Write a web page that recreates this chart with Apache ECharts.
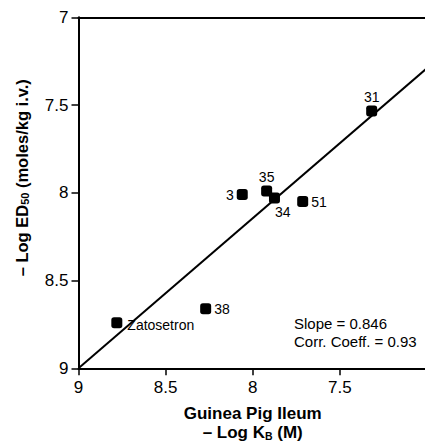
<!DOCTYPE html>
<html><head><meta charset="utf-8">
<script src="https://cdn.jsdelivr.net/npm/echarts@6/dist/echarts.min.js"></script>
<style>html,body{margin:0;padding:0;background:#fff}#c{width:425px;height:444px}</style>
</head><body><div id="c"></div>
<script>
const compounds = ['Zatosetron','38','3','35','34','51','31'];
const guineaPigLogKB = [8.78, 8.27, 8.06, 7.92, 7.875, 7.713, 7.317];
const logED50 = [8.74, 8.66, 8.01, 7.99, 8.03, 8.05, 7.534];
const labelPos = ['bottomRight','right','left','top','bottom','right','top'];
const regressionX = [9, 7];
const regressionY = [9, 7.29];

const FONT = '"Liberation Sans", Arial, sans-serif';
const posMap = {
  right: {position:'right', distance:3},
  left: {position:'left', distance:3},
  top: {position:'top', distance:2},
  bottom: {position:[6,12], distance:0},
  bottomRight: {position:[16,1], distance:0}
};
const pts = compounds.map((n,i)=>({
  value:[guineaPigLogKB[i], logED50[i]],
  name:n,
  label:Object.assign({show:true, formatter:n, color:'#000', fontFamily:FONT, fontSize:14}, posMap[labelPos[i]])
}));

const chart = echarts.init(document.getElementById('c'), null, {renderer:'svg'});
const fmt = v => String(+v.toFixed(2));
const axisCommon = {
  min:7, max:9, interval:0.5, inverse:true,
  splitLine:{show:false},
  axisLine:{show:true, onZero:false, lineStyle:{color:'#000', width:2}},
  axisTick:{show:true, inside:false, length:7, lineStyle:{color:'#000', width:1.5}},
  axisLabel:{color:'#000', fontFamily:FONT, fontSize:17, hideOverlap:false, showMinLabel:true, showMaxLabel:true, formatter:fmt}
};
chart.setOption({
  animation:false,
  backgroundColor:'#fff',
  grid:{left:78.5, top:17.3, width:348.4, height:351, containLabel:false, outerBoundsMode:'none'},
  xAxis:[
    Object.assign({}, axisCommon, {type:'value', position:'bottom',
      axisLabel:Object.assign({}, axisCommon.axisLabel, {margin:11, formatter:v => (v <= 7 ? '' : fmt(v))}),
      name:'{n|Guinea Pig Ileum}\n{n|– Log K}{s|B}{n| (M)}', nameLocation:'middle', nameGap:36,
      nameTextStyle:{align:'center', rich:{n:{fontFamily:FONT, fontWeight:'bold', fontSize:17, color:'#000', lineHeight:19}, s:{fontFamily:FONT, fontWeight:'bold', fontSize:10.5, color:'#000', lineHeight:19, padding:[6,0,0,0]}}}}),
    {type:'value', position:'top', min:7, max:9, inverse:true, axisLine:{show:true, onZero:false, lineStyle:{color:'#000', width:2}}, axisTick:{show:false}, axisLabel:{show:false}, splitLine:{show:false}}
  ],
  yAxis:[Object.assign({}, axisCommon, {type:'value', position:'left',
    axisLabel:Object.assign({}, axisCommon.axisLabel, {margin:10}),
    name:'{n|– Log ED}{s|50}{n| (moles/kg i.v.)}', nameLocation:'middle', nameRotate:90, nameGap:48,
    nameTextStyle:{padding:[0,0,0,30], rich:{n:{fontFamily:FONT, fontWeight:'bold', fontSize:16.5, color:'#000'}, s:{fontFamily:FONT, fontWeight:'bold', fontSize:11, color:'#000', padding:[7,0,0,0]}}}})],
  series:[
    {type:'line', data:regressionX.map((x,i)=>[x, regressionY[i]]), showSymbol:false, symbol:'none', lineStyle:{color:'#000', width:2}, z:2, silent:true},
    {type:'scatter', data:pts, symbol:'roundRect', symbolSize:11, itemStyle:{color:'#000', opacity:1}, z:3}
  ],
  graphic:[
    {type:'text', left:294, top:314, style:{text:'Slope = 0.846\nCorr. Coeff. = 0.93', font:'15px '+FONT, fill:'#000', lineHeight:18}}
  ]
});
</script></body></html>
